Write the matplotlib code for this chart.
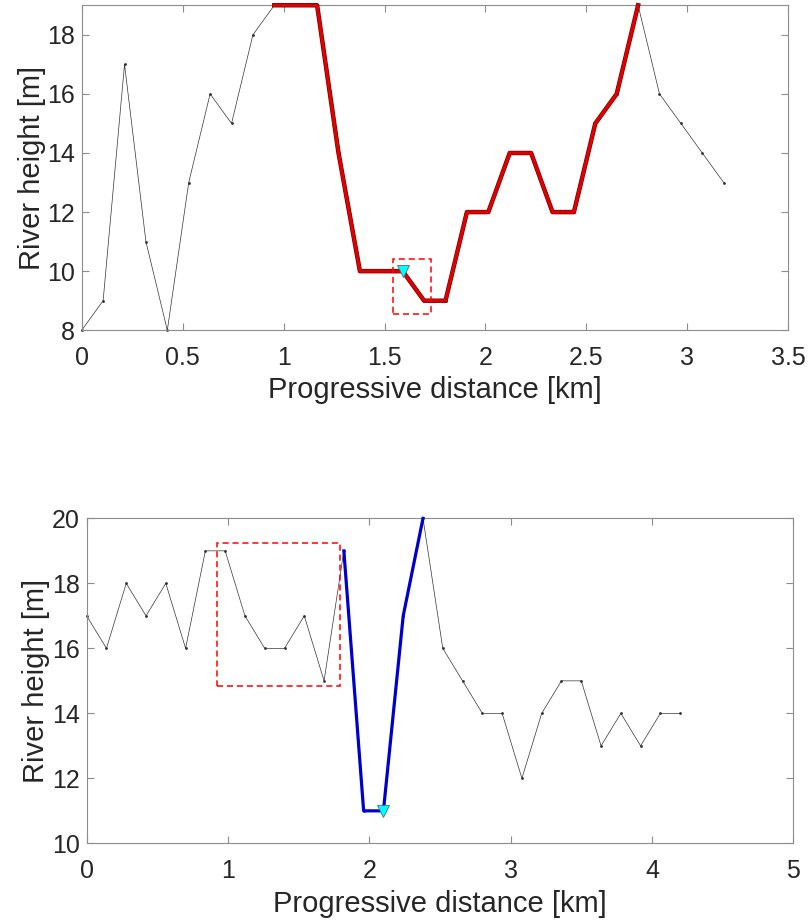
import numpy as np
import matplotlib
matplotlib.use("Agg")
import matplotlib.pyplot as plt
import matplotlib.patheffects as pe
from matplotlib.patches import Rectangle

plt.rcParams['font.family'] = ['Liberation Sans', 'DejaVu Sans']

# profile 1: heights along the river, sampled every ~0.106 km
dist1 = np.arange(31) * 0.106
height1 = [8, 9, 17, 11, 8, 13, 16, 15, 18, 19,
           19, 19, 14, 10, 10, 10, 9, 9, 12, 12,
           14, 14, 12, 12, 15, 16, 19, 16, 15, 14, 13]
seg1 = (9, 26)          # highlighted reach (index range)
mark1 = 15              # station marker
box1 = (1.543, 8.55, 1.729, 10.40)   # x0, y0, x1, y1

# profile 2: heights along the river, sampled every 0.14 km
dist2 = np.arange(31) * 0.14
height2 = [17, 16, 18, 17, 18, 16, 19, 19, 17, 16,
           16, 17, 15, 19, 11, 11, 17, 20, 16, 15,
           14, 14, 12, 14, 15, 15, 13, 14, 13, 14, 14]
seg2 = (13, 17)
mark2 = 15
box2 = (0.922, 14.83, 1.795, 19.25)

xlim1, xticks1 = (0, 3.5), [0, 0.5, 1, 1.5, 2, 2.5, 3, 3.5]
ylim1, yticks1 = (8, 19), [8, 10, 12, 14, 16, 18]
xlim2, xticks2 = (0, 5), [0, 1, 2, 3, 4, 5]
ylim2, yticks2 = (10, 20), [10, 12, 14, 16, 18, 20]


def profile(ax, x, y, seg, mark, box, color, edge, xlim, xticks, ylim, yticks):
    x = np.asarray(x)
    y = np.asarray(y)
    i0, i1 = seg
    effects = [pe.Stroke(linewidth=3.2, foreground=edge), pe.Normal()] if edge else None
    ax.plot(x, y, '-', color='#333333', lw=0.5, marker='.', ms=2, zorder=2, clip_on=False)
    ax.plot(x[i0:i1 + 1], y[i0:i1 + 1], '-', color=color, lw=2.3,
            path_effects=effects, zorder=3, clip_on=False)
    ax.plot(x[mark], y[mark], 'v', color='cyan', mec='#3a7a7a', mew=0.6, ms=8,
            zorder=5, clip_on=False)
    x0, y0, x1, y1 = box
    ax.add_patch(Rectangle((x0, y0), x1 - x0, y1 - y0, fill=False, ec='red',
                           lw=1.1, ls=(0, (4, 2.5)), zorder=4))
    ax.set_xlim(*xlim)
    ax.set_ylim(*ylim)
    ax.set_xticks(xticks)
    ax.set_xticklabels([f'{t:g}' for t in xticks])
    ax.set_yticks(yticks)
    for s in ax.spines.values():
        s.set_color('#8c8c8c')
        s.set_linewidth(0.8)
    ax.tick_params(direction='in', top=True, right=True, length=5, width=0.8,
                   color='#8c8c8c', labelcolor='#262626', labelsize=18)
    ax.tick_params(axis='x', pad=11)
    ax.tick_params(axis='y', pad=5)
    ax.set_xlabel('Progressive distance [km]', fontsize=21, color='#262626', labelpad=5)
    ax.set_ylabel('River height [m]', fontsize=21, color='#262626', labelpad=1)


fig = plt.figure(figsize=(8.1, 9.22), dpi=100)
ax1 = fig.add_axes([0.1009, 0.6418, 0.8723, 0.3525])
ax2 = fig.add_axes([0.1070, 0.0853, 0.8723, 0.3525])

profile(ax1, dist1, height1, seg1, mark1, box1, '#e00000', '#6a0000',
        xlim1, xticks1, ylim1, yticks1)
profile(ax2, dist2, height2, seg2, mark2, box2, '#0000cc', None,
        xlim2, xticks2, ylim2, yticks2)

fig.savefig('out.png', dpi=100)
